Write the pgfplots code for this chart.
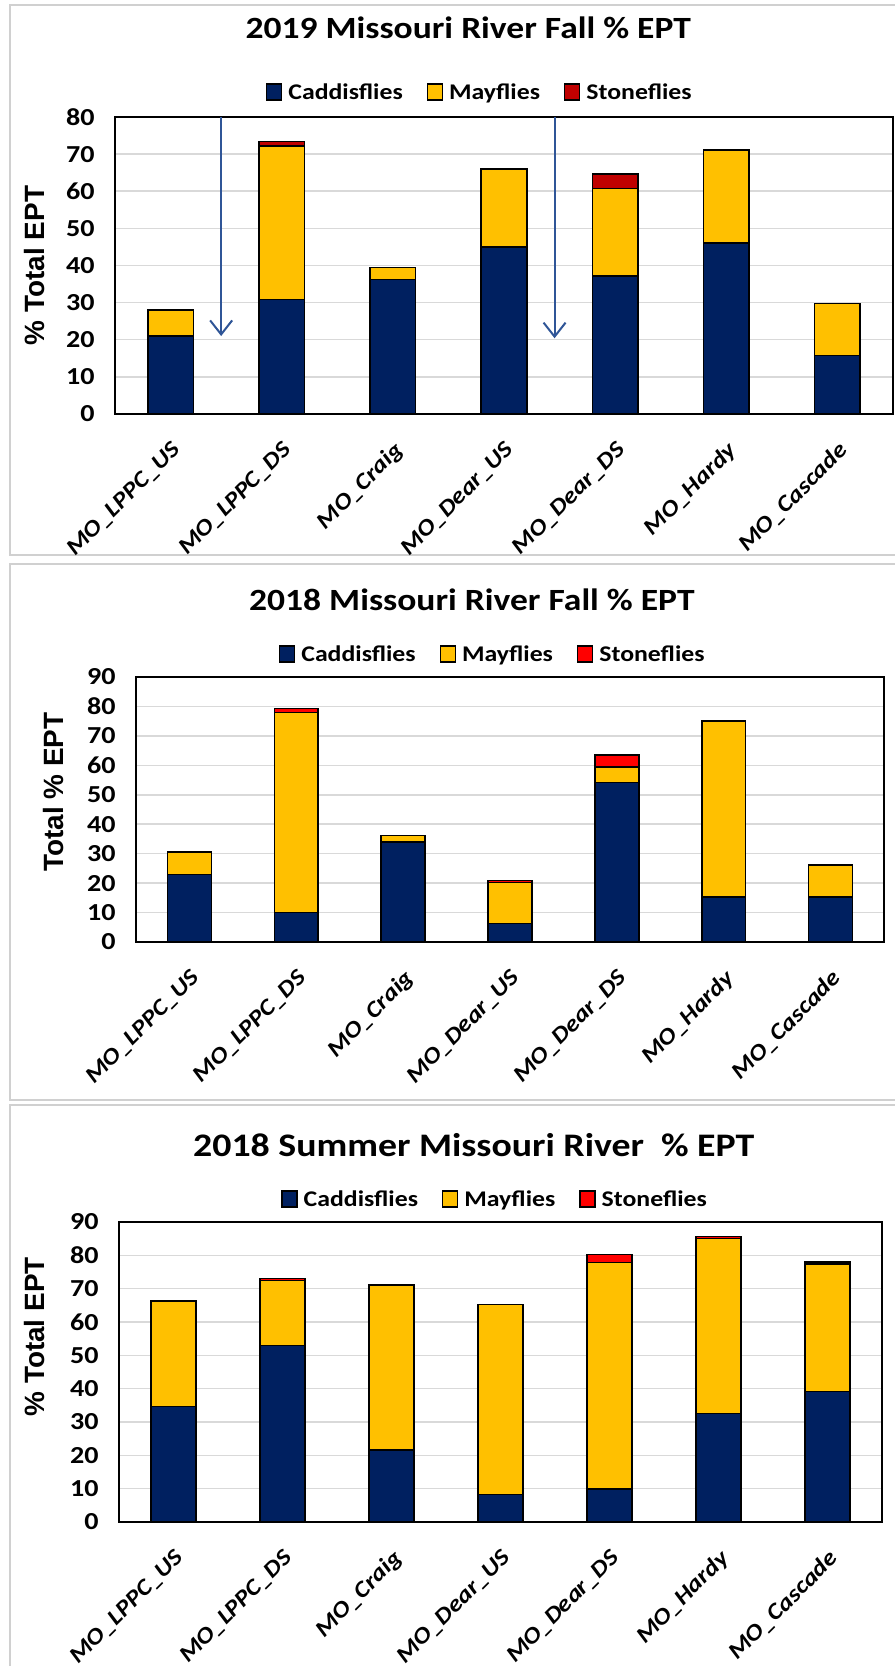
\documentclass[border=0pt]{standalone}
\usepackage{fontspec}
\setmainfont{Carlito}[FakeStretch=1.15]
\newfontfamily\arialfont{Liberation Sans}
\usepackage{pgfplots}
\pgfplotsset{compat=1.18}
\usetikzlibrary{arrows.meta}
\definecolor{cad}{HTML}{002060}
\definecolor{may}{HTML}{FFC000}
\definecolor{stoneA}{HTML}{C00000}
\definecolor{stoneB}{HTML}{FF0000}
\definecolor{gridc}{HTML}{D9D9D9}
\definecolor{framec}{HTML}{D0D0D0}
\definecolor{arrowc}{HTML}{2F5597}

\pgfplotsset{
 ept/.style={
  ybar stacked, bar width=0.41, scale only axis,
  xmin=-0.5, xmax=6.5, ymin=0,
  xtick={0,1,2,3,4,5,6},
  xticklabels={MO\_LPPC\_US,MO\_LPPC\_DS,MO\_Craig,MO\_Dear\_US,MO\_Dear\_DS,MO\_Hardy,MO\_Cascade},
  x tick label style={rotate=45, anchor=north east, font=\fontsize{23}{23}\selectfont\bfseries\itshape, yshift=-15bp, xshift=-15bp},
  y tick label style={font=\fontsize{24.5}{24.5}\selectfont\bfseries, xshift=-17bp},
  /pgf/number format/assume math mode=true,
  major tick length=0pt,
  ymajorgrids, grid style={gridc, line width=1.5bp},
  axis line style={black, line width=1.5bp},
  legend style={draw=none, fill=none, legend columns=3,
    font=\fontsize{22.5}{22.5}\selectfont\bfseries,
    /tikz/every even column/.append style={column sep=22bp}, anchor=center},
  legend image code/.code={\draw[##1, line width=1.2bp] (0bp,-8bp) rectangle (15bp,8bp); \path (19bp,0bp);},
  title style={font=\fontsize{31}{31}\selectfont\bfseries, anchor=center},
  ylabel style={font=\arialfont\fontsize{28}{28}\selectfont\bfseries, anchor=center},
  every axis plot/.append style={draw=black, line width=1.5bp},
 }
}

\begin{document}
\begin{tikzpicture}
\useasboundingbox (0,0) rectangle (895bp,1666bp);
\fill[white] (0,0) rectangle (895bp,1666bp);
% panel frames
\draw[framec, line width=2bp] (896bp,1661bp) -- (10bp,1661bp) -- (10bp,1111bp) -- (896bp,1111bp);
\draw[framec, line width=2bp] (896bp,1102bp) -- (10bp,1102bp) -- (10bp,566bp) -- (896bp,566bp);
\draw[framec, line width=2bp] (896bp,561bp) -- (10bp,561bp) -- (10bp,-2bp);

% Panel 1: 2019 Fall
\begin{axis}[ept, at={(115bp,1252bp)}, anchor=south west, width=778bp, height=297bp,
  ymax=80, ytick={0,10,...,80},
  title={2019 Missouri River Fall \% EPT}, title style={at={(0.454,1.279)}},
  ylabel={\% Total EPT}, ylabel style={at={(-0.104,0.5)}},
  legend style={at={(0.469,1.084)}}]
\addplot[fill=cad] coordinates {(0,21) (1,30.9) (2,36.2) (3,45) (4,37.2) (5,46) (6,15.8)};
\addplot[fill=may] coordinates {(0,7) (1,41.3) (2,3.2) (3,21) (4,23.6) (5,25.1) (6,14)};
\addplot[fill=stoneA] coordinates {(0,0) (1,1.2) (2,0) (3,0) (4,3.9) (5,0) (6,0)};
\legend{Caddisflies,Mayflies,Stoneflies}
\draw[arrowc, line width=2bp, -{Straight Barb[length=14bp,width=22bp]}] (axis cs:0.455,80) -- (axis cs:0.455,21);
\draw[arrowc, line width=2bp, -{Straight Barb[length=14bp,width=22bp]}] (axis cs:3.455,80) -- (axis cs:3.455,20.4);
\end{axis}

% Panel 2: 2018 Fall
\begin{axis}[ept, at={(136bp,724bp)}, anchor=south west, width=748bp, height=265bp,
  ymax=90, ytick={0,10,...,90},
  title={2018 Missouri River Fall \% EPT}, title style={at={(0.449,1.268)}},
  ylabel={Total \% EPT}, ylabel style={at={(-0.110,0.566)}},
  legend style={at={(0.477,1.087)}}]
\addplot[fill=cad] coordinates {(0,23) (1,10) (2,34) (3,6.2) (4,54.2) (5,15.3) (6,15.3)};
\addplot[fill=may] coordinates {(0,7.6) (1,68) (2,2.2) (3,14) (4,5.2) (5,59.7) (6,10.8)};
\addplot[fill=stoneB] coordinates {(0,0) (1,1.3) (2,0) (3,0.6) (4,4.1) (5,0) (6,0)};
\legend{Caddisflies,Mayflies,Stoneflies}
\end{axis}

% Panel 3: 2018 Summer
\begin{axis}[ept, at={(119bp,144bp)}, anchor=south west, width=763bp, height=300bp,
  ymax=90, ytick={0,10,...,90},
  title={2018 Summer Missouri River\ \ \% EPT}, title style={at={(0.465,1.237)}, font=\fontsize{33}{33}\selectfont\bfseries},
  ylabel={\% Total EPT}, ylabel style={at={(-0.111,0.617)}},
  legend style={at={(0.493,1.077)}}]
\addplot[fill=cad] coordinates {(0,34.6) (1,53) (2,21.6) (3,8.3) (4,9.9) (5,32.6) (6,39.1)};
\addplot[fill=may] coordinates {(0,31.5) (1,19.5) (2,49.5) (3,57) (4,68) (5,52.5) (6,38.3)};
\addplot[fill=stoneB] coordinates {(0,0.3) (1,0.6) (2,0) (3,0) (4,2.4) (5,0.5) (6,0.6)};
\legend{Caddisflies,Mayflies,Stoneflies}
\end{axis}
\end{tikzpicture}
\end{document}
